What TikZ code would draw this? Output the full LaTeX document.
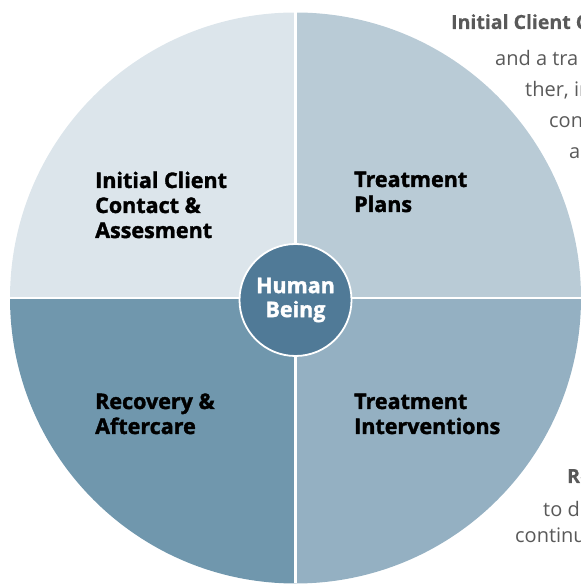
\documentclass[tikz,border=0pt]{standalone}
\usepackage{fontspec}
\setmainfont{Open Sans}
\newfontfamily\heavy{Open Sans}[BoldFeatures={FakeBold=1.6}]
\newfontfamily\semi{Open Sans}[BoldFeatures={FakeBold=0.4}]
\definecolor{qTL}{HTML}{DCE5EB}
\definecolor{qTR}{HTML}{B9CBD6}
\definecolor{qBL}{HTML}{7097AD}
\definecolor{qBR}{HTML}{94B0C2}
\definecolor{hub}{HTML}{507A97}
\definecolor{side}{HTML}{595959}
\begin{document}
\begin{tikzpicture}[x=1pt,y=1pt,
  lab/.style={anchor=base west,inner sep=0pt,align=left,font=\fontsize{21.5}{25}\heavy\bfseries,text=black},
  sidetext/.style={anchor=base west,inner sep=0pt,font=\fontsize{20}{23}\selectfont,text=side},
  sidebold/.style={sidetext,font=\fontsize{19.5}{23}\semi\bfseries}]
\useasboundingbox (0,0) rectangle (581,584);
\begin{scope}
\clip (0,0) rectangle (581,584);
\coordinate (c) at (295.5,286);
\def\R{285.5}
\fill[qTL] (c) -- ++(-\R,0) arc[start angle=180,end angle=90,radius=\R] -- cycle;
\fill[qTR] (c) -- ++(0,\R) arc[start angle=90,end angle=0,radius=\R] -- cycle;
\fill[qBR] (c) -- ++(\R,0) arc[start angle=0,end angle=-90,radius=\R] -- cycle;
\fill[qBL] (c) -- ++(0,-\R) arc[start angle=270,end angle=180,radius=\R] -- cycle;
\draw[white,line width=2.5pt] ([xshift=-\R]c) -- ([xshift=\R]c);
\draw[white,line width=2.5pt] ([yshift=-\R]c) -- ([yshift=\R]c);
\node[circle,fill=hub,draw=white,line width=1.8pt,minimum size=112pt,inner sep=0pt,
  align=center,text=white,font=\fontsize{21.5}{24}\heavy\bfseries] (hubnode) at ([yshift=-2]c) {Human\\Being};
\node[lab] (q1) at (95,346) {Initial Client\\Contact \&\\Assesment};
\node[lab] (q2) at (354,372) {Treatment\\Plans};
\node[lab] (q3) at (95,150) {Recovery \&\\Aftercare};
\node[lab] (q4) at (354,150) {Treatment\\Interventions};
\node[sidebold] (s1) at (451,555) {Initial Client C};
\node[sidetext] (s2) at (495,518) {and a tra};
\node[sidetext] (s3) at (525,487) {ther, in};
\node[sidetext] (s4) at (549,456) {con};
\node[sidetext] (s5) at (569,425) {al};
\node[sidebold] (s6) at (567,101) {Re};
\node[sidetext] (s7) at (543,67) {to d};
\node[sidetext] (s8) at (515,41) {continu};
\end{scope}
\end{tikzpicture}
\end{document}
